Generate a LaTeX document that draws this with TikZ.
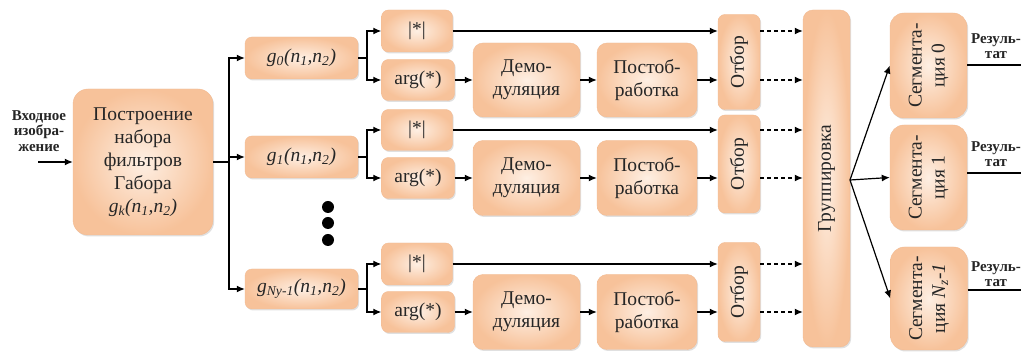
\documentclass[tikz,border=0pt]{standalone}
\usepackage{fontspec}
\setmainfont{Liberation Serif}
\usetikzlibrary{arrows.meta,shadows}
\definecolor{boxin}{HTML}{FEEFE3}
\definecolor{boxout}{HTML}{F7C29A}
\definecolor{boxedge}{HTML}{F3BC94}
\definecolor{ink}{HTML}{262626}
\newcommand\bigtxt{\fontsize{19.5}{23}\selectfont}
\newcommand\smalltxt{\fontsize{15}{15.5}\selectfont\bfseries}
\newcommand\gf[1]{\textit{g\textsubscript{#1}(n\textsubscript{1},n\textsubscript{2})}}
\begin{document}
\begin{tikzpicture}[x=1pt,y=-1pt,
  blk/.style={draw=boxedge, line width=0.4pt, inner color=boxin, outer color=boxout,
    rounded corners=7pt, drop shadow={shadow xshift=1.2pt, shadow yshift=-1.5pt, opacity=0.2, fill=black!60},
    inner sep=0pt, align=center, font=\bigtxt, text=ink},
  rtxt/.style={rotate=90, align=center, font=\bigtxt, inner sep=0pt, text=ink},
  lnk/.style={line width=1.2pt},
  arr/.style={lnk, -{Latex[length=8pt,width=7pt]}},
  dsh/.style={arr, dash pattern=on 4pt off 3pt},
  lbl/.style={font=\smalltxt, align=center, inner sep=0pt, text=ink},
  dotn/.style={circle, fill=black, minimum size=12pt, inner sep=0pt}]
\useasboundingbox[fill=white] (0,0) rectangle (1021,352);

% input
\node[lbl] (intxt) at (39,131) {Входное\\изобра-\\жение};
\coordinate (inp) at (38,162);

% main box
\node[blk, minimum width=140, minimum height=146, rounded corners=15pt] (gab) at (143,162)
  {Построение\\набора\\фильтров\\Габора\\\gf{k}};

% filter boxes
\node[blk, minimum width=113, minimum height=42] (g0) at (301.5,58) {\gf{0}};
\node[blk, minimum width=113, minimum height=42] (g1) at (301.5,157) {\gf{1}};
\node[blk, minimum width=113, minimum height=40] (gN) at (301.5,289) {\gf{Ny-1}};

\node[dotn] (d1) at (328,207) {};
\node[dotn] (d2) at (328,223) {};
\node[dotn] (d3) at (328,240) {};

% abs / arg
\node[blk, minimum width=71, minimum height=42] (abs1) at (417,31) {|*|};
\node[blk, minimum width=73, minimum height=41] (arg1) at (418,80) {arg(*)};
\node[blk, minimum width=71, minimum height=41] (abs2) at (417,130) {|*|};
\node[blk, minimum width=73, minimum height=41] (arg2) at (418,178) {arg(*)};
\node[blk, minimum width=71, minimum height=42] (abs3) at (417,264) {|*|};
\node[blk, minimum width=73, minimum height=41] (arg3) at (418,312) {arg(*)};

% demodulation / postprocessing
\node[blk, minimum width=107, minimum height=74, rounded corners=10pt] (dem1) at (526.5,80) {Демо-\\дуляция};
\node[blk, minimum width=100, minimum height=74, rounded corners=10pt] (pst1) at (647,80) {Постоб-\\работка};
\node[blk, minimum width=107, minimum height=75, rounded corners=10pt] (dem2) at (526.5,178) {Демо-\\дуляция};
\node[blk, minimum width=100, minimum height=75, rounded corners=10pt] (pst2) at (647,178) {Постоб-\\работка};
\node[blk, minimum width=107, minimum height=75, rounded corners=10pt] (dem3) at (526.5,312) {Демо-\\дуляция};
\node[blk, minimum width=100, minimum height=75, rounded corners=10pt] (pst3) at (647,312) {Постоб-\\работка};

% selection
\node[blk, minimum width=42, minimum height=95] (otb1) at (739,62) {};
\node[rtxt] (otb1t) at (otb1) {Отбор};
\node[blk, minimum width=42, minimum height=98] (otb2) at (739,164) {};
\node[rtxt] (otb2t) at (otb2) {Отбор};
\node[blk, minimum width=42, minimum height=99] (otb3) at (739,292) {};
\node[rtxt] (otb3t) at (otb3) {Отбор};

% grouping
\node[blk, minimum width=47, minimum height=337, rounded corners=10pt] (grp) at (826.5,178.5) {};
\node[rtxt] (grpt) at (grp) {Группировка};

% segmentation
\node[blk, minimum width=77, minimum height=105, rounded corners=14pt] (seg0) at (928.5,65.5) {};
\node[rtxt] (seg0t) at (seg0) {Сегмента-\\ция 0};
\node[blk, minimum width=77, minimum height=105, rounded corners=14pt] (seg1) at (928.5,177.5) {};
\node[rtxt] (seg1t) at (seg1) {Сегмента-\\ция 1};
\node[blk, minimum width=77, minimum height=103, rounded corners=14pt] (seg2) at (929,298.5) {};
\node[rtxt] (seg2t) at (seg2) {Сегмента-\\ция \textit{N\textsubscript{z}-1}};

% results
\node[lbl] (r0) at (996,46) {Резуль-\\тат};
\node[lbl] (r1) at (996,154) {Резуль-\\тат};
\node[lbl] (r2) at (996,274) {Резуль-\\тат};
\coordinate (res0) at (1021,65);
\coordinate (res1) at (1021,173);
\coordinate (res2) at (1021,290);

% connectors
\draw[arr] (inp) -- (gab.west |- inp);
\coordinate (t0) at (229,162);
\draw[lnk] (gab.east |- t0) -- (t0);
\draw[arr] (t0) |- (g0.west);
\draw[arr] (t0) |- (g1.west);
\draw[arr] (t0) |- (gN.west);

\coordinate (b1) at (367,58);
\coordinate (b2) at (367,157);
\coordinate (b3) at (367,289);
\draw[lnk] (g0.east) -- (b1);
\draw[lnk] (g1.east) -- (b2);
\draw[lnk] (gN.east) -- (b3);
\draw[arr] (b1) |- (abs1.west);
\draw[arr] (b1) |- (arg1.west);
\draw[arr] (b2) |- (abs2.west);
\draw[arr] (b2) |- (arg2.west);
\draw[arr] (b3) |- (abs3.west);
\draw[arr] (b3) |- (arg3.west);

\draw[arr] (abs1.east) -- (abs1.east -| otb1.west);
\draw[arr] (abs2.east) -- (abs2.east -| otb2.west);
\draw[arr] (abs3.east) -- (abs3.east -| otb3.west);

\draw[arr] (arg1.east) -- (dem1.west);
\draw[arr] (dem1.east) -- (pst1.west);
\draw[arr] (pst1.east) -- (pst1.east -| otb1.west);
\draw[arr] (arg2.east) -- (dem2.west);
\draw[arr] (dem2.east) -- (pst2.west);
\draw[arr] (pst2.east) -- (pst2.east -| otb2.west);
\draw[arr] (arg3.east) -- (dem3.west);
\draw[arr] (dem3.east) -- (pst3.west);
\draw[arr] (pst3.east) -- (pst3.east -| otb3.west);

\draw[dsh] (otb1.east |- abs1) -- (grp.west |- abs1);
\draw[dsh] (otb1.east |- arg1) -- (grp.west |- arg1);
\draw[dsh] (otb2.east |- abs2) -- (grp.west |- abs2);
\draw[dsh] (otb2.east |- arg2) -- (grp.west |- arg2);
\draw[dsh] (otb3.east |- abs3) -- (grp.west |- abs3);
\draw[dsh] (otb3.east |- arg3) -- (grp.west |- arg3);

\coordinate (fan) at (850,180);
\draw[arr] (fan) -- (seg0.west);
\draw[arr] (fan) -- (seg1.west);
\draw[arr] (fan) -- (seg2.west);

\draw[lnk] (seg0.east |- res0) -- (res0);
\draw[lnk] (seg1.east |- res1) -- (res1);
\draw[lnk] (seg2.east |- res2) -- (res2);
\end{tikzpicture}
\end{document}
